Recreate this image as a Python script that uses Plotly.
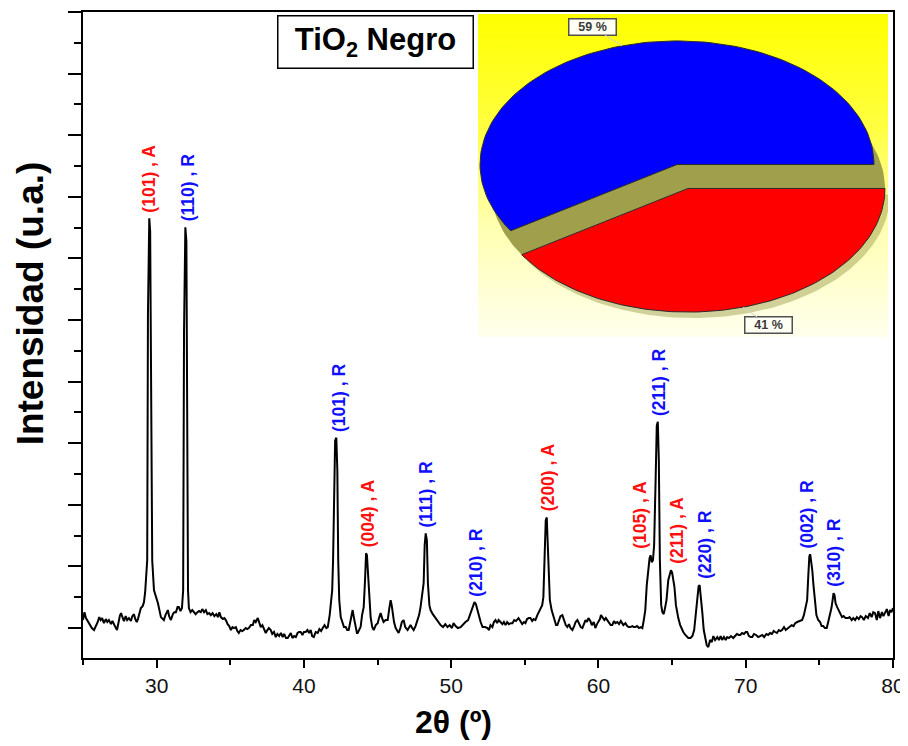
import numpy as np
import plotly.graph_objects as go

# ---------------- XRD pattern ----------------
two_theta = [
25.0,25.1,25.2,25.35,25.5,25.6,25.75,25.9,26.0,26.1,26.2,26.3,26.42,26.55,26.65,26.76,26.9,27.0,27.1,27.2,
27.31,27.4,27.5,27.58,27.7,27.78,27.9,28.0,28.12,28.25,28.35,28.46,28.55,28.65,28.73,28.83,28.93,29.05,29.14,29.22,
29.3,29.36,29.41,29.5,29.56,29.63,29.7,29.82,30.09,30.29,30.49,30.6,30.76,30.85,30.97,31.1,31.2,31.31,31.42,31.51,
31.62,31.72,31.8,31.86,31.95,32.02,32.07,32.13,32.19,32.3,32.42,32.53,32.65,32.77,32.88,33.0,33.1,33.22,33.34,33.45,
33.57,33.68,33.8,33.92,34.05,34.16,34.26,34.36,34.5,34.6,34.7,34.82,34.93,35.04,35.15,35.25,35.38,35.48,35.58,35.7,
35.82,35.92,36.05,36.15,36.26,36.4,36.53,36.63,36.73,36.87,36.97,37.07,37.18,37.3,37.41,37.52,37.62,37.75,37.85,37.97,
38.09,38.2,38.32,38.44,38.56,38.66,38.78,38.9,39.0,39.11,39.22,39.34,39.45,39.57,39.67,39.78,39.9,40.0,40.12,40.24,
40.35,40.46,40.56,40.67,40.8,40.94,41.05,41.17,41.28,41.4,41.52,41.62,41.75,41.82,41.92,41.98,42.05,42.12,42.2,42.27,
42.33,42.4,42.5,42.62,42.72,42.84,42.94,43.04,43.15,43.25,43.31,43.4,43.51,43.6,43.65,43.75,43.85,43.95,44.06,44.15,
44.22,44.28,44.35,44.42,44.53,44.64,44.74,44.88,45.01,45.1,45.21,45.31,45.41,45.55,45.69,45.8,45.89,45.96,46.02,46.12,
46.23,46.33,46.43,46.55,46.65,46.77,46.88,47.04,47.14,47.24,47.35,47.45,47.58,47.72,47.82,47.92,48.03,48.13,48.2,48.27,
48.35,48.42,48.52,48.6,48.75,48.94,49.1,49.28,49.45,49.6,49.75,49.9,50.05,50.16,50.3,50.45,50.64,50.8,50.97,51.15,
51.31,51.45,51.58,51.68,51.78,51.86,52.0,52.13,52.3,52.47,52.57,52.67,52.8,52.9,53.01,53.12,53.22,53.35,53.48,53.58,
53.69,53.8,53.92,54.05,54.16,54.28,54.4,54.57,54.7,54.82,54.94,55.04,55.15,55.27,55.38,55.5,55.6,55.72,55.85,55.95,
56.06,56.18,56.26,56.34,56.42,56.49,56.55,56.62,56.7,56.82,56.94,57.05,57.12,57.21,57.32,57.42,57.55,57.65,57.78,57.89,
58.0,58.1,58.23,58.35,58.45,58.57,58.68,58.8,58.91,59.02,59.12,59.22,59.32,59.45,59.55,59.68,59.79,59.9,60.0,60.1,
60.17,60.27,60.4,60.5,60.61,60.72,60.83,60.94,61.05,61.15,61.28,61.4,61.52,61.69,61.83,61.95,62.05,62.16,62.3,62.4,
62.5,62.62,62.75,62.88,62.98,63.08,63.18,63.28,63.39,63.47,63.54,63.62,63.7,63.78,63.88,63.96,64.03,64.1,64.17,64.26,
64.34,64.43,64.52,64.62,64.74,64.85,64.92,65.0,65.08,65.16,65.26,65.35,65.42,65.55,65.66,65.76,65.9,66.0,66.1,66.25,
66.38,66.5,66.6,66.71,66.8,66.87,66.95,67.05,67.15,67.25,67.35,67.46,67.58,67.7,67.8,67.92,68.07,68.18,68.3,68.4,
68.52,68.64,68.74,68.86,69.0,69.15,69.27,69.4,69.52,69.63,69.75,69.88,70.0,70.1,70.22,70.33,70.44,70.56,70.7,70.85,
70.98,71.12,71.25,71.4,71.52,71.65,71.78,71.9,72.0,72.12,72.25,72.35,72.47,72.6,72.72,72.88,73.0,73.12,73.25,73.36,
73.5,73.62,73.73,73.83,73.95,74.05,74.17,74.25,74.32,74.38,74.45,74.52,74.6,74.7,74.8,74.92,75.05,75.15,75.26,75.38,
75.5,75.6,75.72,75.82,75.9,75.96,76.03,76.1,76.21,76.35,76.45,76.54,76.65,76.78,76.95,77.05,77.2,77.3,77.43,77.55,
77.68,77.8,77.9,78.02,78.15,78.3,78.42,78.55,78.66,78.78,78.9,79.0,79.12,79.25,79.35,79.46,79.58,79.7,79.8,79.9,
80.0]

intensity = [
565,629,581,549,524,500,484,516,549,589,565,581,540,573,549,565,532,557,524,508,
484,549,597,621,581,557,597,565,581,557,597,613,573,549,573,629,662,678,710,791,
929,1050,3048,3825,3720,2506,1050,807,702,589,565,605,646,597,565,613,629,629,670,670,
638,662,807,2911,3752,3640,2466,807,662,629,646,629,613,629,638,629,654,629,646,613,
621,605,621,597,613,589,629,589,573,581,565,532,516,484,508,500,508,476,460,484,
476,484,500,492,500,524,524,565,549,581,549,508,524,484,460,484,500,484,452,468,
427,452,435,460,427,452,419,419,444,460,419,435,427,460,468,468,444,468,468,484,
460,484,435,427,468,460,492,476,500,524,500,508,605,670,807,1050,1778,2021,2045,1778,
1050,727,589,549,508,508,484,484,549,629,646,581,508,460,460,484,508,605,670,888,
1107,1091,929,727,589,508,484,524,540,581,621,581,549,565,565,662,727,686,629,549,
500,476,460,500,549,565,508,484,508,524,500,484,516,565,605,670,767,864,1172,1269,
1212,864,686,646,613,581,549,524,508,532,508,524,500,540,516,500,508,532,549,565,
621,662,710,694,646,629,549,508,508,500,484,524,508,549,565,540,565,549,532,549,
524,549,532,540,540,565,557,581,557,532,549,540,573,581,581,557,573,565,605,629,
646,686,751,1131,1374,1398,1212,929,727,646,589,549,524,524,565,597,605,565,524,508,
532,500,484,516,549,565,532,508,500,532,565,549,581,557,524,549,500,532,557,573,
605,589,565,581,565,549,524,524,557,540,549,532,557,524,540,516,508,508,516,508,
508,516,500,508,500,565,646,848,994,1066,1091,1034,1050,1172,1697,2142,2175,1859,1050,686,
629,613,662,727,888,929,969,953,905,832,686,605,581,524,492,468,444,427,419,419,
435,484,605,727,840,848,767,629,484,403,362,346,403,387,435,403,427,403,435,403,
427,403,427,419,435,419,435,452,444,444,460,452,468,468,435,427,427,452,444,427,
435,444,427,452,444,460,452,476,468,460,484,476,484,508,484,500,508,524,516,540,
549,557,565,565,605,662,727,929,1083,1099,1050,969,848,727,605,565,549,516,516,500,
500,549,605,662,727,783,767,702,670,629,605,589,597,581,581,589,565,581,565,589,
573,597,589,565,597,581,621,589,629,621,565,638,581,629,597,621,654,597,646,629,
662]

# ---------------- peak labels ----------------
peak_pos = [29.5, 31.95, 42.2, 44.22, 48.27, 51.58, 56.49, 63.54, 64.03, 65.0, 66.87, 74.38, 75.96]
peak_int = [3825, 3752, 2045, 1107, 1269, 710, 1398, 1091, 2175, 969, 848, 1099, 783]
peak_lbl = ["(101) , A", "(110) , R", "(101) , R", "(004) , A", "(111) , R", "(210) , R",
            "(200) , A", "(105) , A", "(211) , R", "(211) , A", "(220) , R", "(002) , R", "(310) , R"]
peak_phase = ["A", "R", "R", "A", "R", "R", "A", "A", "R", "A", "R", "R", "R"]
peak_dx = [0, 3, 2, 2, 0, 2, 2, -10, 1, 5, 6, -3, 1]

# ---------------- phase fractions (inset pie) ----------------
phase_names = ["Rutilo", "Anatasa"]
phase_pct = [59, 41]
phase_cols = ["#0000FF", "#FF0000"]

x_ticks = [30, 40, 50, 60, 70, 80]

FONT = "Arial, Liberation Sans, sans-serif"
phase_color = {"A": "#FF1010", "R": "#1010FF"}

fig = go.Figure()

fig.add_trace(go.Scatter(x=two_theta, y=intensity, mode="lines",
                         line=dict(color="black", width=2), showlegend=False,
                         hoverinfo="skip"))

for x, y, t, ph, dx in zip(peak_pos, peak_int, peak_lbl, peak_phase, peak_dx):
    fig.add_annotation(x=x, y=y, xref="x", yref="y", text="<b>%s</b>" % t,
                       textangle=-90, showarrow=False, xanchor="center", yanchor="bottom",
                       xshift=dx, yshift=4,
                       font=dict(family=FONT, size=17.5, color=phase_color[ph]))

# ---------------- inset pie on its own axes ----------------
W, H = 410.0, 324.0
a, b = 197.0, 124.0
cx, cy = 199.0, 173.0
explode = (11.0, -24.0)

fig.add_trace(go.Scatter(x=[0, W, W, 0, 0], y=[0, 0, H, H, 0], mode="lines",
                         fill="toself", line=dict(width=0),
                         fillgradient=dict(type="vertical", start=0, stop=H,
                                           colorscale=[[0, "#FFFFEE"], [0.35, "#FFFFB0"],
                                                       [0.65, "#FFFF40"], [1, "#FFFF00"]]),
                         xaxis="x2", yaxis="y2", showlegend=False, hoverinfo="skip"))

def wedge(c0, c1, ox, oy):
    t = np.linspace(np.radians(c0), np.radians(c1), 120)
    xs = np.concatenate([[cx + ox], cx + ox + a * np.cos(t), [cx + ox]])
    ys = np.concatenate([[cy + oy], cy + oy + b * np.sin(t), [cy + oy]])
    return xs, ys

cum = np.cumsum([0] + phase_pct) / 100.0 * 360.0
offsets = [(0.0, 0.0), explode]
shadow = [(11.0, -24.0), (5.0, -6.0)]
shadow_col = ["#A0A04C", "rgba(150,150,70,0.45)"]

for i in range(len(phase_pct)):
    ox, oy = offsets[i]
    sx, sy = shadow[i]
    xs, ys = wedge(cum[i], cum[i + 1], ox + sx, oy + sy)
    fig.add_trace(go.Scatter(x=xs, y=ys, mode="lines", fill="toself",
                             fillcolor=shadow_col[i], line=dict(width=0),
                             xaxis="x2", yaxis="y2", showlegend=False, hoverinfo="skip"))

for i in range(len(phase_pct)):
    ox, oy = offsets[i]
    xs, ys = wedge(cum[i], cum[i + 1], ox, oy)
    fig.add_trace(go.Scatter(x=xs, y=ys, mode="lines", fill="toself",
                             fillcolor=phase_cols[i], line=dict(color="#2a2a2a", width=1),
                             xaxis="x2", yaxis="y2", showlegend=False, hoverinfo="skip",
                             name=phase_names[i]))

label_shift = [(-30, -19), (26, 18)]
for i in range(len(phase_pct)):
    ox, oy = offsets[i]
    mid = np.radians((cum[i] + cum[i + 1]) / 2)
    px_ = cx + ox + a * np.cos(mid)
    py_ = cy + oy + b * np.sin(mid)
    fig.add_annotation(x=px_, y=py_, xref="x2", yref="y2",
                       text="<b>%d %%</b>" % phase_pct[i], showarrow=True,
                       arrowhead=0, arrowwidth=1, arrowcolor="#d0d0d0",
                       ax=label_shift[i][0], ay=label_shift[i][1],
                       bgcolor="#FFFFF4", bordercolor="#505050", borderwidth=1.5,
                       borderpad=1, width=44, height=13,
                       font=dict(family=FONT, size=12.5, color="#3a3a3a"))

# ---------------- titles ----------------
fig.add_annotation(x=0.3605, y=0.9537, xref="paper", yref="paper",
                   text="<b>TiO<sub>2</sub> Negro</b>", showarrow=False,
                   xanchor="center", yanchor="middle",
                   bgcolor="white", bordercolor="black", borderwidth=1.5,
                   width=192, height=49, borderpad=1,
                   font=dict(family=FONT, size=31, color="black"))

fig.add_annotation(x=-0.0654, y=0.549, xref="paper", yref="paper",
                   text="<b>Intensidad (u.a.)</b>", textangle=-90, showarrow=False,
                   xanchor="center", yanchor="middle",
                   font=dict(family=FONT, size=37, color="black"))

fig.add_annotation(x=0.457, y=-0.0988, xref="paper", yref="paper",
                   text="<b>2θ (º)</b>", showarrow=False,
                   xanchor="center", yanchor="middle",
                   font=dict(family=FONT, size=32, color="black"))

fig.update_layout(
    width=900, height=738,
    margin=dict(l=75, r=15, t=2, b=88),
    paper_bgcolor="white", plot_bgcolor="white",
    showlegend=False,
    xaxis=dict(range=[25, 80], tickvals=x_ticks, ticktext=[str(v) for v in x_ticks],
               showline=True, linecolor="black", linewidth=2, mirror=True,
               ticks="outside", ticklen=8, tickwidth=2, tickcolor="black",
               minor=dict(ticks="outside", ticklen=5, tickwidth=2, tickcolor="black",
                          dtick=5, tick0=25),
               showgrid=False, zeroline=False,
               tickfont=dict(family=FONT, size=21, color="#111111")),
    yaxis=dict(range=[257, 5500], showticklabels=False,
               showline=True, linecolor="black", linewidth=2, mirror=True,
               ticks="outside", ticklen=13, tickwidth=2, tickcolor="black",
               tick0=500, dtick=500,
               minor=dict(ticks="outside", ticklen=7, tickwidth=2, tickcolor="black",
                          dtick=250, tick0=250),
               showgrid=False, zeroline=False),
    xaxis2=dict(domain=[0.4877, 0.9938], range=[0, W], visible=False, fixedrange=True),
    yaxis2=dict(domain=[0.4969, 0.9969], range=[0, H], visible=False, fixedrange=True),
)

fig.write_html("out.html")
